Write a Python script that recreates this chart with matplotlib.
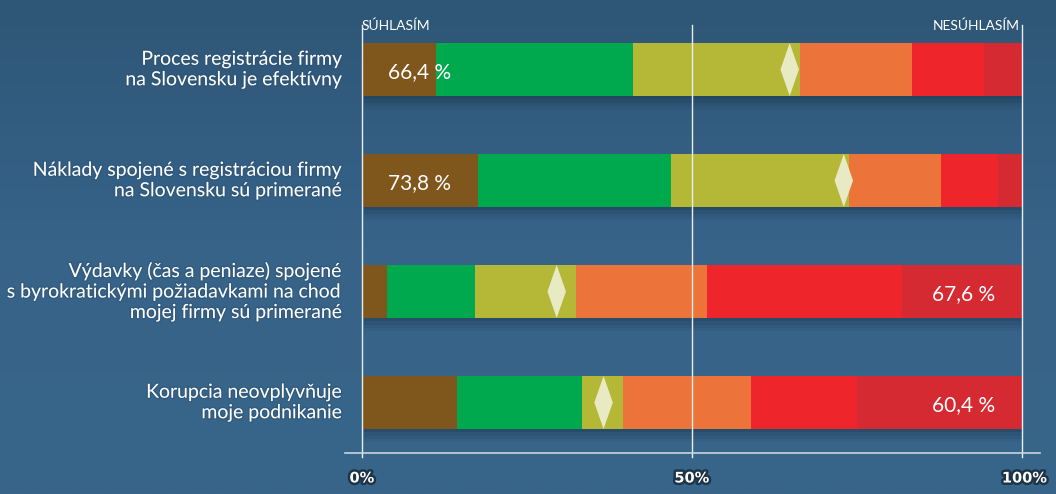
import numpy as np
import matplotlib
matplotlib.use("Agg")
import matplotlib.pyplot as plt
from matplotlib.patches import Polygon, Rectangle
import matplotlib.patheffects as pe

# statements (top to bottom)
labels = [
    "Proces registrácie firmy\nna Slovensku je efektívny",
    "Náklady spojené s registráciou firmy\nna Slovensku sú primerané",
    "Výdavky (čas a peniaze) spojené\ns byrokratickými požiadavkami na chod\nmojej firmy sú primerané",
    "Korupcia neovplyvňuje\nmoje podnikanie",
]
# share of answers in %, from "agree" to "disagree"
s1 = [11.2, 17.6, 3.8, 14.4]
s2 = [29.9, 29.2, 13.3, 19.0]
s3 = [25.3, 27.0, 15.3, 6.2]
s4 = [17.0, 13.9, 19.8, 19.4]
s5 = [10.8, 8.7, 29.6, 16.0]
s6 = [5.8, 3.6, 18.2, 25.0]
# average answer marker position in %
mean_pos = [64.8, 73.0, 29.5, 36.6]
# text shown in bar, side: 0 = agree side, 1 = disagree side
bar_text = ["66,4 %", "73,8 %", "67,6 %", "60,4 %"]
text_side = [0, 0, 1, 1]

colors = ["#7f561b", "#00a84e", "#b5b836", "#ec733a", "#ee262c", "#d62a32"]
bg = "#35607f"

fig = plt.figure(figsize=(10.56, 4.94), dpi=100)
fig.patch.set_facecolor(bg)

# background gradient
bax = fig.add_axes([0, 0, 1, 1], zorder=-5)
grad = np.linspace(0, 1, 200).reshape(-1, 1)
cmap = matplotlib.colors.LinearSegmentedColormap.from_list("bg", ["#2e5676", "#37638a", "#386589"])
bax.imshow(grad, aspect="auto", cmap=cmap, extent=[0, 1, 0, 1], origin="upper")
bax.axis("off")

ax = fig.add_axes([362 / 1056, 1 - 453 / 494, 660 / 1056, 433 / 494])
ax.set_facecolor("none")
ax.set_xlim(0, 100)
ax.set_ylim(3.455, -0.446)
for sp in ax.spines.values():
    sp.set_visible(False)
ax.set_yticks([])
ax.set_xticks([])

h = 0.477
y = np.arange(len(labels))

# soft shadows under bars
for i in y:
    for k, a in enumerate([0.12, 0.09, 0.07, 0.05]):
        off = 0.03 + 0.03 * k
        ax.add_patch(Rectangle((0.3, i - h / 2 + off), 100 + 0.5 * k, h, color="#0b1c2c",
                               alpha=a, lw=0, zorder=1))

left = np.zeros(len(labels))
for vals, c in zip([s1, s2, s3, s4, s5, s6], colors):
    ax.barh(y, vals, left=left, height=h, color=c, edgecolor="none", zorder=2)
    left += np.array(vals)

# gridlines at 0, 50, 100
for xv in [0, 50, 100]:
    ax.plot([xv, xv], [3.49, -0.40], color="#e8eef3", lw=1, clip_on=False, zorder=3)

# mean diamonds
dw = 1.4
for i, m in enumerate(mean_pos):
    ax.add_patch(Polygon([[m - dw, i], [m, i - h / 2], [m + dw, i], [m, i + h / 2]],
                         closed=True, color="#e8eac4", lw=0, zorder=4))

for i, t in enumerate(bar_text):
    if text_side[i] == 0:
        ax.text(3.9, i + 0.02, t, ha="left", va="center", color="white",
                fontsize=15, family="Lato", zorder=5)
    else:
        ax.text(95.9, i + 0.02, t, ha="right", va="center", color="white",
                fontsize=15, family="Lato", zorder=5)

glow = [pe.withStroke(linewidth=2, foreground="#2d5372", alpha=0.5)]
for i, lab in enumerate(labels):
    ax.text(-2.9, i, lab, ha="right", va="center", color="white", fontsize=14,
            family="Lato", linespacing=1.25, zorder=5, path_effects=glow)

# bottom axis line
ax.plot([-0.026, 1.027], [0, 0], transform=ax.transAxes, color="#c9d6e0", lw=1.2,
        clip_on=False, zorder=3)

shadow = [pe.withStroke(linewidth=3.5, foreground="#1d3346")]
for xv, t in zip([0, 50, 100], ["0%", "50%", "100%"]):
    ax.text(xv + (0.4 if xv == 100 else 0), 3.68, t, ha="center", va="center",
            color="white", fontsize=10.5, fontweight="bold", family="DejaVu Sans",
            path_effects=shadow, clip_on=False)

ax.text(0, -0.39, "SÚHLASÍM", ha="left", va="center", color="white", fontsize=10,
        family="Lato", clip_on=False)
ax.text(99.6, -0.39, "NESÚHLASÍM", ha="right", va="center", color="white", fontsize=10,
        family="Lato", clip_on=False)

fig.savefig("out.png", dpi=100, facecolor=fig.get_facecolor())
